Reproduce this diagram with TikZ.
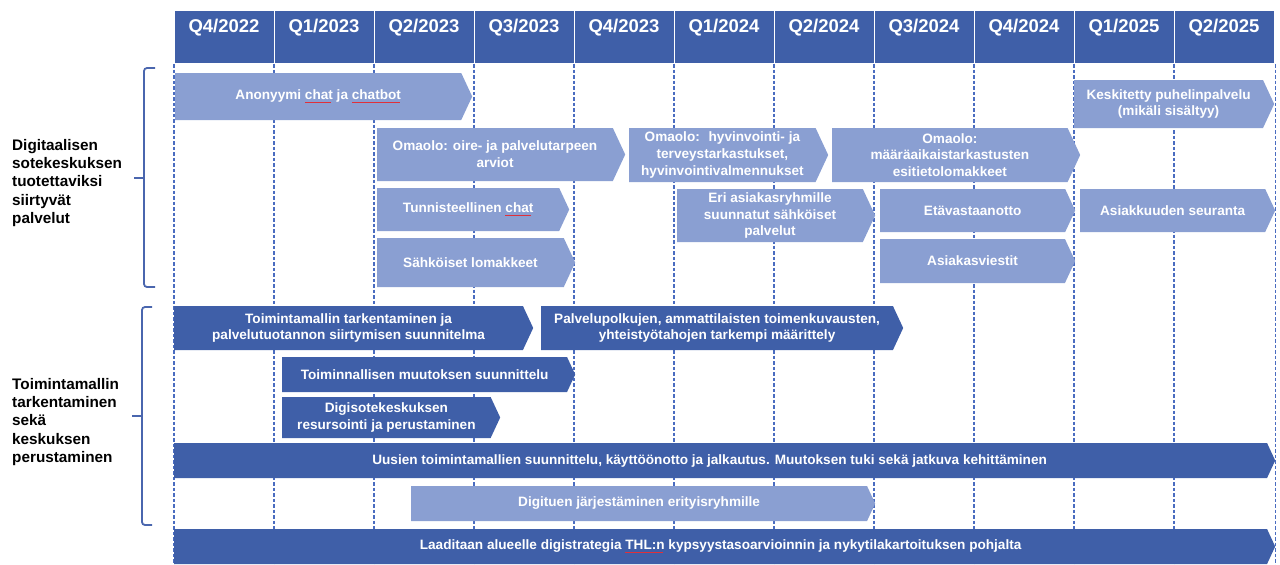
\documentclass[tikz,border=0pt]{standalone}
\usepackage{fontspec}
\setmainfont{Liberation Sans}
\usetikzlibrary{shapes.symbols, positioning}
\definecolor{headerBlue}{HTML}{3F5FA8}
\definecolor{barDark}{HTML}{3F5FA8}
\definecolor{barLight}{HTML}{8A9FD2}
\definecolor{gridBlue}{HTML}{4A6CC0}
\definecolor{bracketBlue}{HTML}{4A66AE}
\definecolor{spellRed}{HTML}{E0303A}
\newcommand\spellmark[1]{\setbox0\hbox{#1}\rlap{\raisebox{-3.2pt}{\color{spellRed}\leaders\hbox{\rule{1pt}{0.7pt}\raisebox{0.8pt}{\rule{1pt}{0.7pt}}}\hskip\wd0}}#1}

\begin{document}
\begin{tikzpicture}[
    x=1pt, y=-1pt,
    quarter/.style={rectangle, fill=headerBlue, draw=white, line width=1.2pt,
                    minimum width=100pt, minimum height=53pt, anchor=north west, inner sep=0},
    quarterlabel/.style={text=white, font=\fontsize{18.5}{22}\selectfont\bfseries},
    bar/.style={signal, signal to=east, signal from=nowhere, signal pointer angle=130,
                anchor=west, inner sep=0, text=white, align=center,
                font=\fontsize{13.6}{16.8}\selectfont\bfseries},
    light/.style={bar, fill=barLight},
    dark/.style={bar, fill=barDark},
    gridline/.style={gridBlue, dash pattern=on 3.5pt off 2pt, line width=1.2pt},
    bracket/.style={bracketBlue, line width=1.8pt, rounded corners=3pt},
    sidelabel/.style={anchor=west, align=left, inner sep=0,
                      font=\fontsize{15.3}{18.4}\selectfont\bfseries}
]
\useasboundingbox (0,0) rectangle (1280,565);

% Quarters
\foreach \q/\yr [count=\i from 0] in {4/2022,1/2023,2/2023,3/2023,4/2023,1/2024,2/2024,3/2024,4/2024,1/2025,2/2025} {
    \node[quarter] (q\i) at ({174+100*\i},10) {};
    \node[quarterlabel] (ql\i) at ({224+100*\i},28) {Q\q/\yr};
}

% Grid
\foreach \i in {0,...,10}
    \draw[gridline] (q\i.south west) -- ++(0,502);
\draw[gridline] (q10.south east) -- ++(0,502);

% Digital services
\node[light, minimum width=297pt, minimum height=47pt] (anon) at (175,96.5) {Anonyymi \spellmark{chat} ja \spellmark{chatbot}};
\node[light, minimum width=200pt, minimum height=48pt] (phone) at (1074,104) {Keskitetty puhelinpalvelu\\(mikäli sisältyy)};
\node[light, minimum width=248pt, minimum height=53pt] (omaoloA) at (377,154.5) {Omaolo: oire- ja palvelutarpeen\\arviot};
\node[light, minimum width=199pt, minimum height=54pt] (omaoloB) at (629,155) {Omaolo:~ hyvinvointi- ja\\terveystarkastukset,\\hyvinvointivalmennukset};
\node[light, minimum width=248pt, minimum height=54pt] (omaoloC) at (832,155) {Omaolo:\\määräaikaistarkastusten\\esitietolomakkeet};
\node[light, minimum width=192pt, minimum height=43pt] (idchat) at (377,209.5) {Tunnisteellinen \spellmark{chat}};
\node[light, minimum width=198pt, minimum height=49pt] (forms) at (377,262.5) {Sähköiset lomakkeet};
\node[light, minimum width=198pt, minimum height=53pt] (groups) at (677,215.5) {Eri asiakasryhmille\\suunnatut sähköiset\\palvelut};
\node[light, minimum width=195pt, minimum height=43pt] (remote) at (880,210.5) {Etävastaanotto};
\node[light, minimum width=195pt, minimum height=44pt] (messages) at (880,261) {Asiakasviestit};
\node[light, minimum width=195pt, minimum height=43pt] (followup) at (1080,210.5) {Asiakkuuden seuranta};

% Operating model
\node[dark, minimum width=359pt, minimum height=44pt] (model) at (174,328) {Toimintamallin tarkentaminen ja\\palvelutuotannon siirtymisen suunnitelma};
\node[dark, minimum width=362pt, minimum height=44pt] (paths) at (541,328) {Palvelupolkujen, ammattilaisten toimenkuvausten,\\yhteistyötahojen tarkempi määrittely};
\node[dark, minimum width=293pt, minimum height=35pt] (change) at (282,374.5) {Toiminnallisen muutoksen suunnittelu};
\node[dark, minimum width=218pt, minimum height=41pt] (resources) at (282,417.5) {Digisotekeskuksen\\resursointi ja perustaminen};
\node[dark, minimum width=1101pt, minimum height=35pt] (newmodels) at (174,460.5) {Uusien toimintamallien suunnittelu, käyttöönotto ja jalkautus. Muutoksen tuki sekä jatkuva kehittäminen\hspace{22pt}};
\node[light, minimum width=464pt, minimum height=35pt] (support) at (411,503.5) {Digituen järjestäminen erityisryhmille};
\node[dark, minimum width=1101pt, minimum height=35pt] (strategy) at (174,546.5) {Laaditaan alueelle digistrategia \spellmark{THL:n} kypsyystasoarvioinnin ja nykytilakartoituksen pohjalta};

% Side labels
\node[sidelabel] (digital) at (12,183) {Digitaalisen\\sotekeskuksen\\tuotettaviksi\\siirtyvät\\palvelut};
\node[sidelabel] (setup) at (12,422) {Toimintamallin\\tarkentaminen\\sekä\\keskuksen\\perustaminen};

% Brackets
\draw[bracket] (155,68) -- (144,68) -- (144,287) -- (155,287);
\draw[bracketBlue, line width=1.8pt] (144,178) -- (134,178);
\draw[bracket] (152,307) -- (142,307) -- (142,525) -- (152,525);
\draw[bracketBlue, line width=1.8pt] (142,416) -- (132,416);

\end{tikzpicture}
\end{document}
